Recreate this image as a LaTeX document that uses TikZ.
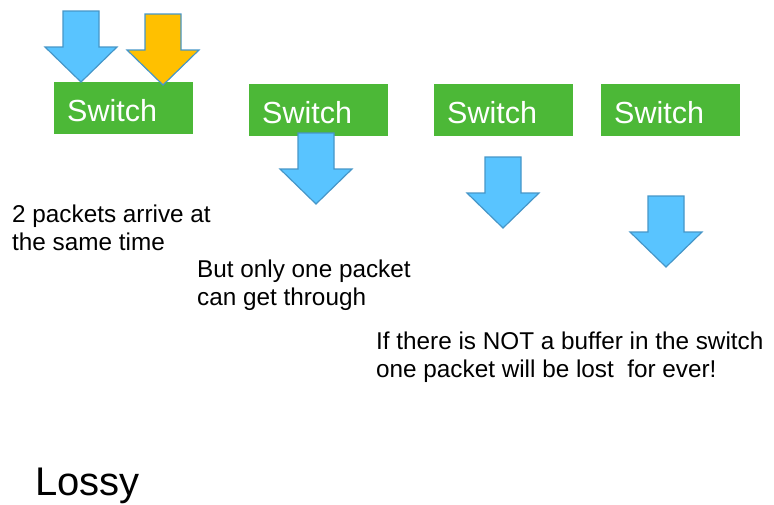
\documentclass[tikz,border=0pt]{standalone}
\usepackage{fontspec}
\setmainfont{Liberation Sans}
\usepackage{tikz}

\definecolor{switchgreen}{RGB}{76,184,55}
\definecolor{pktblue}{RGB}{89,196,255}
\definecolor{pktorange}{RGB}{255,192,0}
\definecolor{pktedge}{RGB}{70,150,200}

% block arrow: centre x, top y, fill colour
\newcommand{\pktarrow}[3]{\draw[pkt,fill=#3] (#1-18,#2) -- (#1+18,#2) -- (#1+18,#2+36) -- (#1+36,#2+36) -- (#1,#2+71) -- (#1-36,#2+36) -- (#1-18,#2+36) -- cycle;}

\begin{document}
\begin{tikzpicture}[x=1pt,y=-1pt]
\tikzstyle{switchbox}=[rectangle,fill=switchgreen,text=white,anchor=north west,font=\fontsize{30.5}{36}\selectfont,minimum height=52pt,text height=26pt,text depth=0pt,text width=113pt,inner xsep=13pt,inner ysep=0pt,align=left]
\tikzstyle{pkt}=[draw=pktedge,line width=1.2pt,line join=miter]
\tikzstyle{note}=[anchor=base west,inner sep=0pt,align=left,font=\fontsize{24.3}{28}\selectfont]
\useasboundingbox (0,0) rectangle (774,504);

\node[switchbox] (S1) at (54,82) {Switch};
\node[switchbox] (S2) at (249,84) {Switch};
\node[switchbox] (S3) at (434,84) {Switch};
\node[switchbox] (S4) at (601,84) {Switch};

\pktarrow{81}{11}{pktblue}
\pktarrow{163}{14}{pktorange}
\pktarrow{316}{133}{pktblue}
\pktarrow{503}{157}{pktblue}
\pktarrow{666}{196}{pktblue}

% base anchor sits on the last line
\node[note] (arrive) at (12,250) {2 packets arrive at\\the same time};
\node[note] (through) at (197,305) {But only one packet\\can get through};
\node[note] (lost) at (376,377) {If there is NOT a buffer in the switch\\one packet will be lost\ \ for ever!};
\node[anchor=base west,inner sep=0pt,font=\fontsize{40}{48}\selectfont] (lossy) at (35,495) {Lossy};

\end{tikzpicture}
\end{document}
